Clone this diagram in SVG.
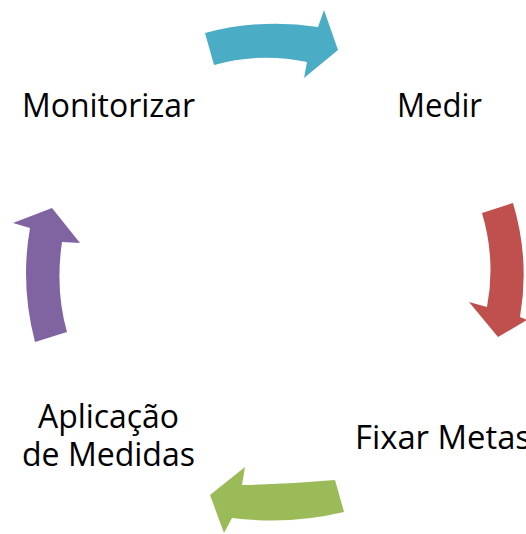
<svg xmlns="http://www.w3.org/2000/svg" width="526" height="534" viewBox="0 0 526 534">
<style>
.lbl{font-family:"Open Sans","Liberation Sans",sans-serif;font-size:32px;fill:#000}
</style>
<rect width="526" height="534" fill="#fff"/>
<g id="connectors">
<path id="arrow-top" d="M205,33 Q262,18 318,27 L324,10 L338,50 L304,78 L307,62 Q260,52 214,65 Z" fill="#4BACC6"/>
<path id="arrow-right" d="M482,213 L513,203 Q530,260 520,317 L527,320 L498,337 L469,302 L487,307 Q496,260 482,213 Z" fill="#C0504D"/>
<path id="arrow-bottom" d="M335,480 Q290,484 242,485 L245,467 L210,495 L224,533 L232,518 Q290,525 344,512 Z" fill="#9BBB59"/>
<path id="arrow-left" d="M35,342 Q20,285 30,228 L13,223 L52,208 L80,243 L62,242 Q55,290 67,332 Z" fill="#8064A2"/>
</g>
<g id="node-medir"><text class="lbl" x="397" y="117" textLength="85" lengthAdjust="spacingAndGlyphs">Medir</text></g>
<g id="node-fixar"><text class="lbl" x="355" y="449" textLength="176" lengthAdjust="spacingAndGlyphs">Fixar Metas</text></g>
<g id="node-aplicacao"><text class="lbl" x="38" y="428" textLength="141" lengthAdjust="spacingAndGlyphs">Aplicação</text><text class="lbl" x="22" y="466" textLength="173" lengthAdjust="spacingAndGlyphs">de Medidas</text></g>
<g id="node-monitorizar"><text class="lbl" x="22" y="117" textLength="173" lengthAdjust="spacingAndGlyphs">Monitorizar</text></g>
</svg>
